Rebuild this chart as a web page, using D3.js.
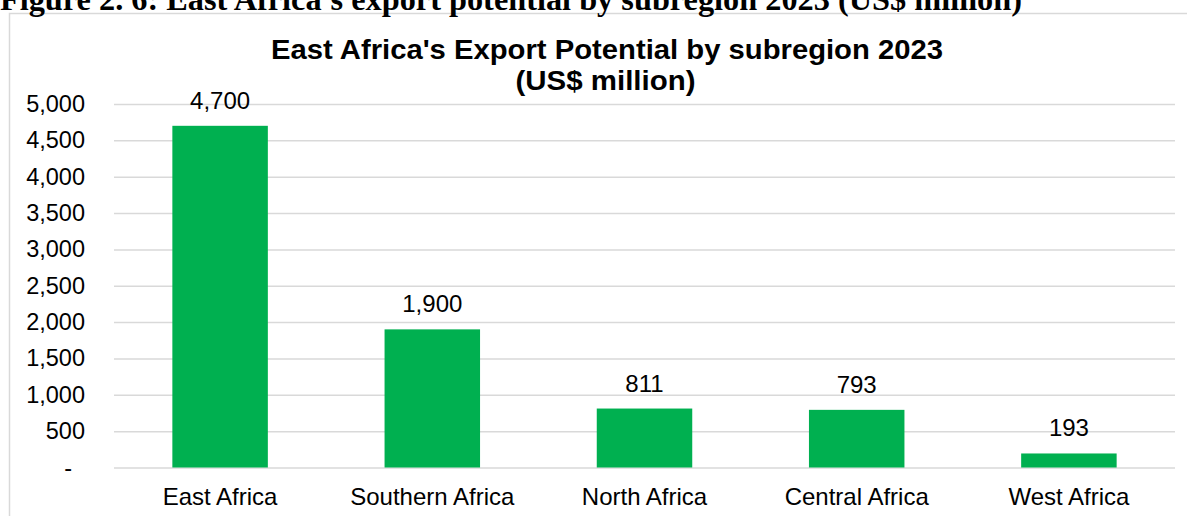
<!DOCTYPE html>
<html>
<head>
<meta charset="utf-8">
<script src="https://cdn.jsdelivr.net/npm/d3@7"></script>
<style>
  html, body { margin: 0; padding: 0; background: #fff; }
  svg { display: block; }
</style>
</head>
<body>
<svg id="chart" width="1187" height="516"></svg>
<script>
const categories = ["East Africa", "Southern Africa", "North Africa", "Central Africa", "West Africa"];
const values = [4700, 1900, 811, 793, 193];
const yTicks = [0, 500, 1000, 1500, 2000, 2500, 3000, 3500, 4000, 4500, 5000];
const titleLines = ["East Africa's Export Potential by subregion 2023", "(US$ million)"];
const caption = "Figure 2. 6: East Africa's export potential by subregion 2023 (US$ million)";

const svg = d3.select("#chart");
const W = 1187, H = 516;
const plot = { left: 114, right: 1175, top: 104, bottom: 467.5 };
const sans = "'Liberation Sans', Arial, sans-serif";

// outer chart frame
svg.append("rect")
  .attr("x", 9.5).attr("y", 13.5)
  .attr("width", W - 9.5 + 5).attr("height", H)
  .attr("fill", "#fff").attr("stroke", "#d9d9d9").attr("stroke-width", 1.5);

// caption (clipped at top)
svg.append("text")
  .attr("x", 0).attr("y", 10)
  .attr("font-family", "'Liberation Serif', 'Times New Roman', serif")
  .attr("font-weight", "bold")
  .attr("font-size", 31)
  .attr("textLength", 1022).attr("lengthAdjust", "spacingAndGlyphs")
  .attr("fill", "#000")
  .text(caption);

const x = d3.scaleBand().domain(categories).range([plot.left, plot.right]).paddingInner(0.55).paddingOuter(0.275);
const y = d3.scaleLinear().domain([0, 5000]).range([plot.bottom, plot.top]);

const fmt = d3.format(",");

// grid lines + y tick labels
const yAxis = d3.axisLeft(y).tickValues(yTicks).tickSize(-(plot.right - plot.left)).tickPadding(29)
  .tickFormat(d => d === 0 ? "-" : fmt(d));
const gy = svg.append("g").attr("transform", `translate(${plot.left},0)`).call(yAxis);
gy.select(".domain").remove();
gy.selectAll(".tick line").attr("stroke", "#d9d9d9").attr("stroke-width", 1.5);
gy.selectAll(".tick text")
  .attr("font-family", sans)
  .attr("font-size", 23.5).attr("fill", "#000");
gy.selectAll(".tick").filter(d => d === 0).select("text").attr("dx", -13);

// bars
svg.append("g").selectAll("rect").data(values).join("rect")
  .attr("x", (d, i) => x(categories[i]))
  .attr("y", d => y(d))
  .attr("width", x.bandwidth())
  .attr("height", d => y(0) - y(d))
  .attr("fill", "#00b050");

// data labels
svg.append("g").selectAll("text").data(values).join("text")
  .attr("x", (d, i) => x(categories[i]) + x.bandwidth() / 2)
  .attr("y", d => y(d) - 17)
  .attr("text-anchor", "middle")
  .attr("font-family", sans)
  .attr("font-size", 24).attr("fill", "#000")
  .text(d => fmt(d));

// x axis labels
const xAxis = d3.axisBottom(x).tickSize(0).tickPadding(20);
const gx = svg.append("g").attr("transform", `translate(0,${plot.bottom})`).call(xAxis);
gx.select(".domain").remove();
gx.selectAll(".tick text")
  .attr("font-family", sans)
  .attr("font-size", 24).attr("fill", "#000");

// title
const titleWidths = [672, 180];
const title = svg.append("text")
  .attr("x", 607).attr("y", 59)
  .attr("text-anchor", "middle")
  .attr("font-family", sans)
  .attr("font-weight", "bold")
  .attr("font-size", 27).attr("fill", "#000");
title.selectAll("tspan").data(titleLines).join("tspan")
  .attr("x", (d, i) => i === 0 ? 607 : 605.5)
  .attr("dy", (d, i) => i === 0 ? 0 : 31)
  .attr("textLength", (d, i) => titleWidths[i])
  .attr("lengthAdjust", "spacingAndGlyphs")
  .text(d => d);
</script>
</body>
</html>
